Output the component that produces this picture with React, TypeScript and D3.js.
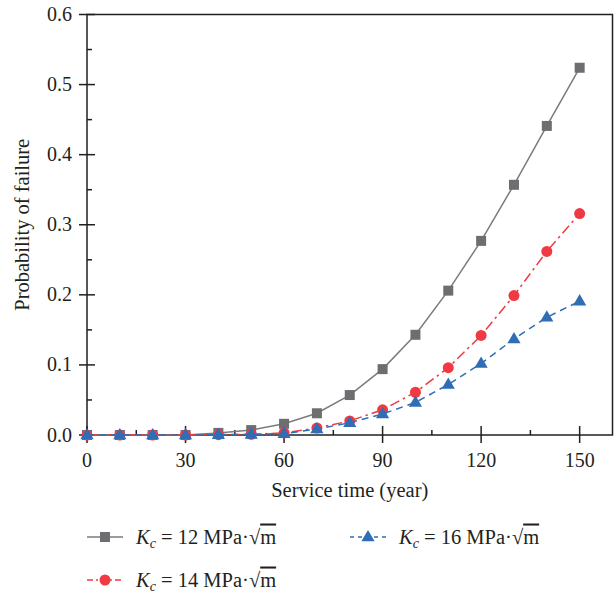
import React from "react";
import * as d3 from "d3";

const years = [0, 10, 20, 30, 40, 50, 60, 70, 80, 90, 100, 110, 120, 130, 140, 150];
const k12 = [0, 0, 0, 0, 0.003, 0.007, 0.016, 0.031, 0.057, 0.094, 0.143, 0.206, 0.277, 0.357, 0.441, 0.524];
const k14 = [0, 0, 0, 0, 0.0005, 0.001, 0.003, 0.010, 0.020, 0.036, 0.061, 0.096, 0.142, 0.199, 0.262, 0.316];
const k16 = [0, 0, 0, 0, 0.0003, 0.0008, 0.002, 0.0085, 0.0175, 0.030, 0.0465, 0.072, 0.102, 0.137, 0.168, 0.191];
const xTicks = [0, 30, 60, 90, 120, 150];
const xMinor = [15, 45, 75, 105, 135];
const yTicks = [0, 0.1, 0.2, 0.3, 0.4, 0.5, 0.6];
const yMinor = [0.05, 0.15, 0.25, 0.35, 0.45, 0.55];
const legendValues = ["12", "14", "16"];

const W = 615, H = 592;
const L = 87, R = 612.5, T = 14.5, B = 435;
const FONT = "'Liberation Serif', 'Times New Roman', serif";
const AX = "#231f20";
const GRAY = "#6d6e71", GRAY_LINE = "#7b7b7d";
const RED = "#ef3a43";
const BLUE = "#2f6db5";
const FS = 20.5;
const TFS = 20;

const x = d3.scaleLinear().domain([0, 160]).range([L, R]);
const y = d3.scaleLinear().domain([0, 0.6]).range([B, T]);

function Marker({ kind, cx, cy }: { kind: string; cx: number; cy: number }) {
  if (kind === "square") return <rect x={cx - 5} y={cy - 5} width={10} height={10} fill={GRAY} />;
  if (kind === "circle") return <circle cx={cx} cy={cy} r={5.5} fill={RED} />;
  const s = d3.symbol(d3.symbolTriangle, 75)();
  return <path d={s || ""} transform={`translate(${cx},${cy + 0.5})`} fill={BLUE} />;
}

const series = [
  { vals: k12, kind: "square", color: GRAY_LINE, dash: "none" },
  { vals: k14, kind: "circle", color: RED, dash: "10,4,2.5,4" },
  { vals: k16, kind: "triangle", color: BLUE, dash: "7,5" },
];

function LegendLabel({ tx, ty, v }: { tx: number; ty: number; v: string }) {
  return (
    <text x={tx} y={ty} fontFamily={FONT} fontSize={FS} fill={AX}>
      <tspan fontStyle="italic">K</tspan>
      <tspan fontStyle="italic" fontSize={14} dy={4}>c</tspan>
      <tspan dy={-4}>{` = ${v} MPa·√`}</tspan>
      <tspan style={{ textDecoration: "overline" }}>m</tspan>
    </text>
  );
}

export default function App() {
  const line = d3.line<number>().x((_, i) => x(years[i])).y((d) => y(d));
  const legendPos = [
    { lx: 87, ly: 537, s: series[0], v: legendValues[0] },
    { lx: 87, ly: 580, s: series[1], v: legendValues[1] },
    { lx: 350, ly: 537, s: series[2], v: legendValues[2] },
  ];
  return (
    <svg width={W} height={H} style={{ position: "absolute", left: 0, top: 0, background: "#fff" }}>
      <rect x={L} y={T} width={R - L} height={B - T} fill="none" stroke={AX} strokeWidth={1.5} />
      {yTicks.map((t) => (
        <g key={"y" + t}>
          <line x1={L - 8} x2={L + 8} y1={y(t)} y2={y(t)} stroke={AX} strokeWidth={1.5} />
          <text x={L - 15} y={y(t) + 6.5} textAnchor="end" fontFamily={FONT} fontSize={TFS} fill={AX}>
            {d3.format(".1f")(t)}
          </text>
        </g>
      ))}
      {yMinor.map((t) => (
        <line key={"ym" + t} x1={L} x2={L + 5} y1={y(t)} y2={y(t)} stroke={AX} strokeWidth={1.5} />
      ))}
      {xTicks.map((t) => (
        <g key={"x" + t}>
          <line x1={x(t)} x2={x(t)} y1={B - 9} y2={B + 8} stroke={AX} strokeWidth={1.5} />
          <text x={x(t)} y={B + 32} textAnchor="middle" fontFamily={FONT} fontSize={TFS} fill={AX}>
            {t}
          </text>
        </g>
      ))}
      {xMinor.map((t) => (
        <line key={"xm" + t} x1={x(t)} x2={x(t)} y1={B - 5} y2={B} stroke={AX} strokeWidth={1.5} />
      ))}
      <text x={(L + R) / 2} y={497} textAnchor="middle" fontFamily={FONT} fontSize={FS} fill={AX}>
        Service time (year)
      </text>
      <text transform={`translate(29,${(T + B) / 2}) rotate(-90)`} textAnchor="middle" fontFamily={FONT} fontSize={FS} fill={AX}>
        Probability of failure
      </text>
      {series.map((s, i) => (
        <g key={"s" + i}>
          <path d={line(s.vals) || ""} fill="none" stroke={s.color} strokeWidth={1.5} strokeDasharray={s.dash} />
          {s.vals.map((v, j) => (
            <Marker key={j} kind={s.kind} cx={x(years[j])} cy={y(v)} />
          ))}
        </g>
      ))}
      {legendPos.map((p, i) => (
        <g key={"l" + i}>
          <line x1={p.lx} x2={p.lx + 36} y1={p.ly} y2={p.ly} stroke={p.s.color} strokeWidth={1.5} strokeDasharray={p.s.dash === "none" ? "none" : i === 1 ? "6,3,2,3" : "4,4"} />
          <Marker kind={p.s.kind} cx={p.lx + 18} cy={p.ly} />
          <LegendLabel tx={p.lx + 49} ty={p.ly + 6.5} v={p.v} />
        </g>
      ))}
    </svg>
  );
}
